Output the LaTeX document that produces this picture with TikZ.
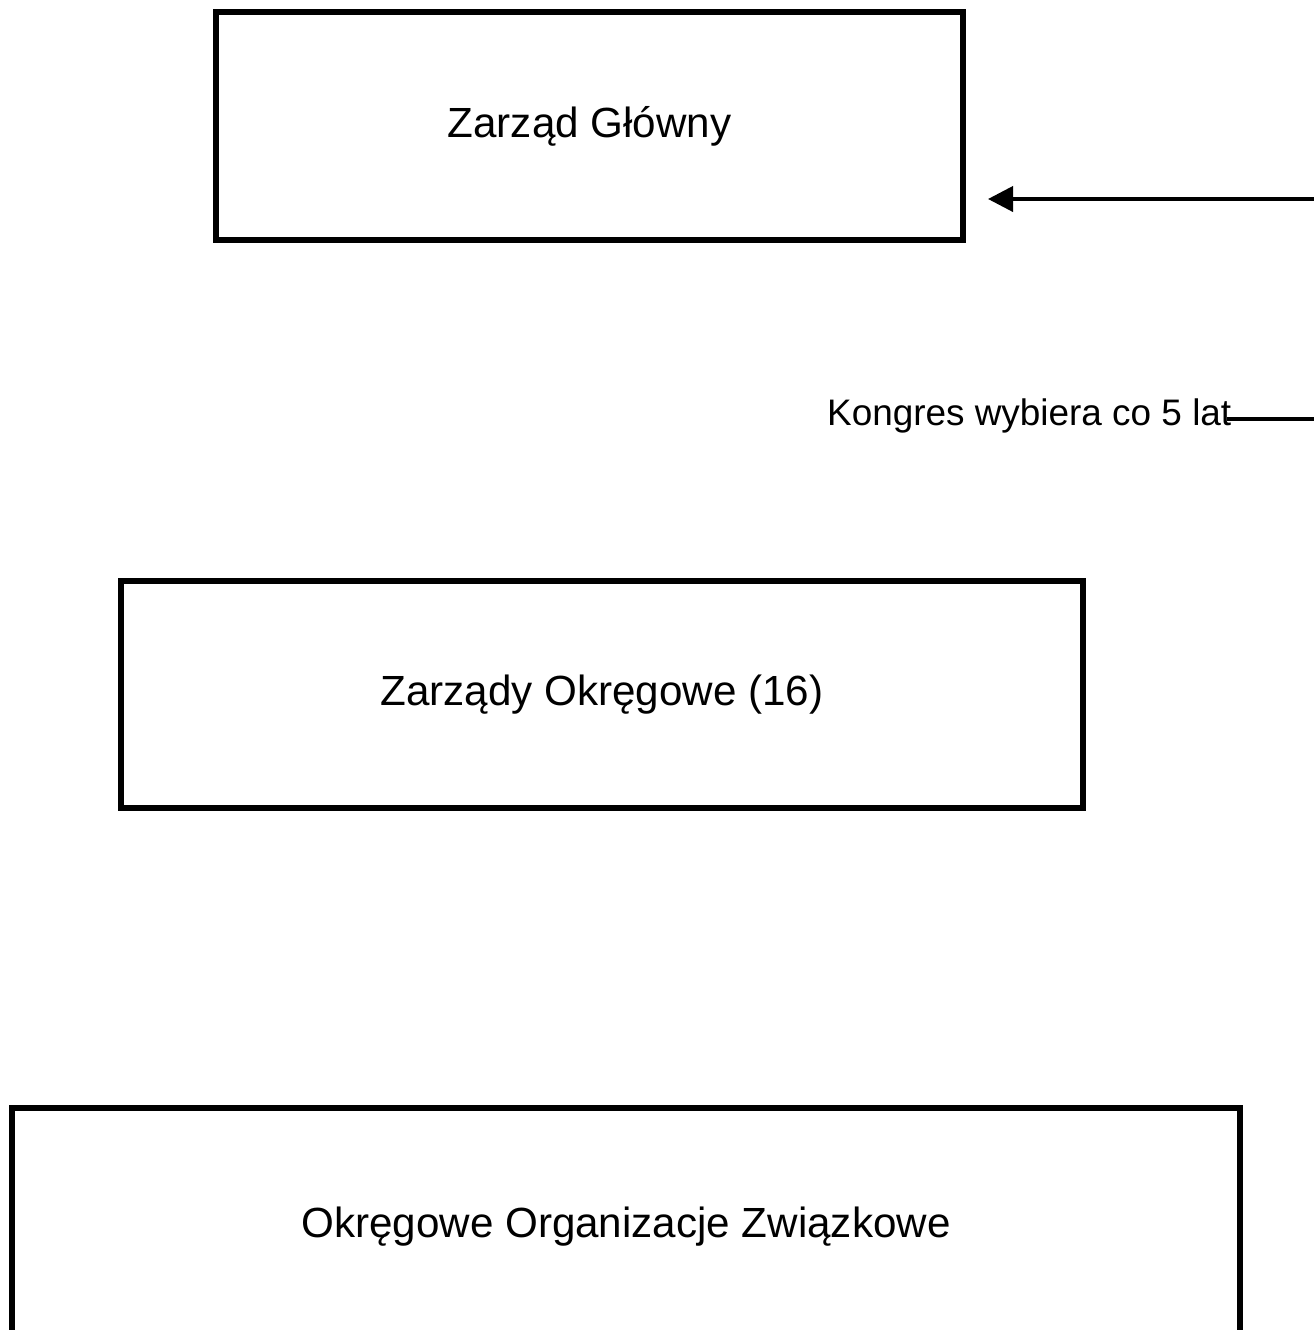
\documentclass[tikz,border=0pt]{standalone}
\usepackage{fontspec}
\setmainfont{Liberation Sans}
\usetikzlibrary{arrows.meta}

\begin{document}
\begin{tikzpicture}[>={Triangle[length=0.25cm,width=0.25cm]}]
    \tikzstyle{box}=[draw=black,line width=1.5pt,inner sep=0pt,outer sep=0pt,
        font=\fontsize{12}{14}\selectfont]
    \tikzstyle{annot}=[inner sep=0pt,font=\fontsize{10.5}{12}\selectfont]
    \tikzstyle{link}=[draw=black,line width=1.1pt]

    % Page frame
    \clip (0,0) rectangle (13.14,-13.30);

    % Draw the boxes
    \node[box,minimum width=7.47cm,minimum height=2.28cm] (ZG) at (5.895,-1.26) {Zarząd Główny};
    \node[box,minimum width=9.62cm,minimum height=2.27cm] (ZO) at (6.02,-6.945) {Zarządy Okręgowe (16)};
    \node[box,minimum width=12.28cm,minimum height=2.38cm] (OOZ) at (6.26,-12.27) {Okręgowe Organizacje Związkowe};

    % Annotate the election
    \node[annot,anchor=base east] (kongres) at (12.32,-4.25) {Kongres wybiera co 5 lat};

    % Lines coming in from the right
    \coordinate (arr-src) at (13.40,-1.99);
    \coordinate (k-end) at (13.40,-4.19);
    \path[link,->,shorten >=0.25cm] (arr-src) -- (arr-src -| ZG.east);
    \path[link,line width=0.9pt,shorten <=-0.05cm] (kongres.east |- k-end) -- (k-end);
\end{tikzpicture}
\end{document}
